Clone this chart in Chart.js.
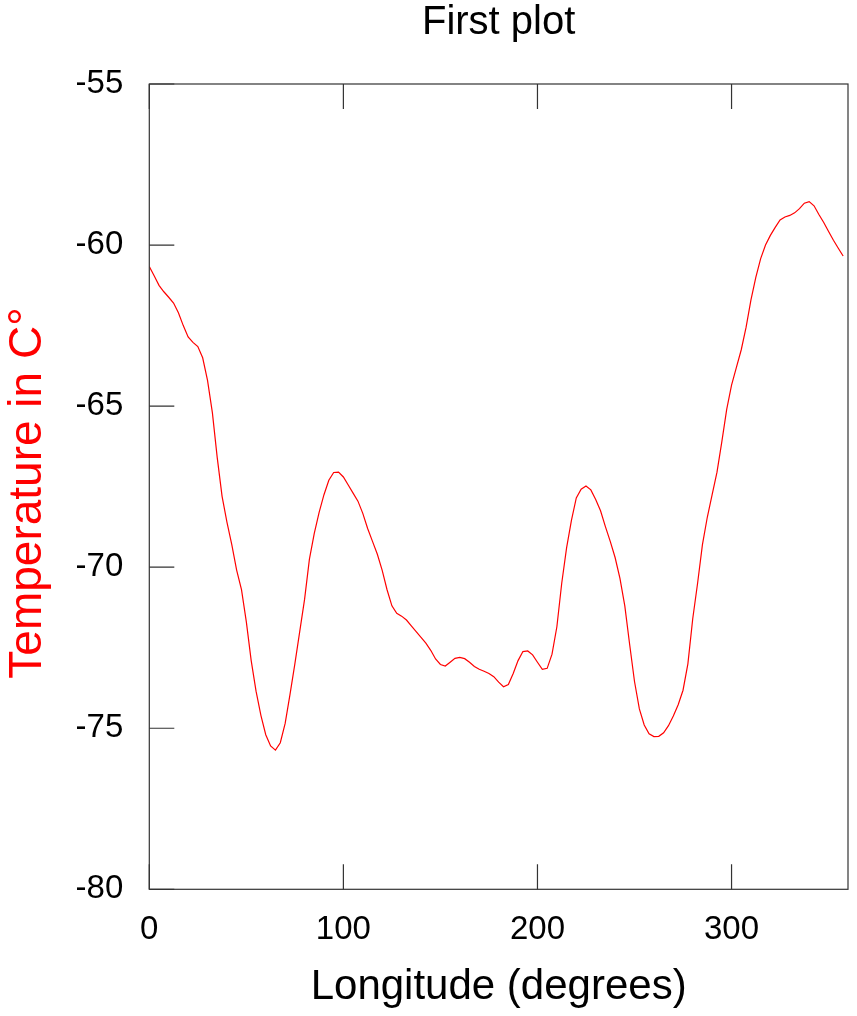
<!DOCTYPE html>
<html>
<head>
<meta charset="utf-8">
<title>First plot</title>
<script src="https://cdn.jsdelivr.net/npm/chart.js@4/dist/chart.umd.min.js"></script>
<style>
  html, body { margin: 0; padding: 0; background: #fff; }
  #wrap { width: 857px; height: 1016px; position: relative; }
</style>
</head>
<body>
<div id="wrap"><canvas id="tempChart"></canvas></div>
<script>
// Longitude of each sample (degrees)
const longitudes = [
    0, 2.5, 5, 7.5, 10, 12.5, 15, 17.5, 20, 22.5, 25, 27.5, 30, 32.5, 35, 37.5,
    40, 42.5, 45, 47.5, 50, 52.5, 55, 57.5, 60, 62.5, 65, 67.5, 70, 72.5, 75, 77.5,
    80, 82.5, 85, 87.5, 90, 92.5, 95, 97.5, 100, 102.5, 105, 107.5, 110, 112.5, 115, 117.5,
    120, 122.5, 125, 127.5, 130, 132.5, 135, 137.5, 140, 142.5, 145, 147.5, 150, 152.5, 155, 157.5,
    160, 162.5, 165, 167.5, 170, 172.5, 175, 177.5, 180, 182.5, 185, 187.5, 190, 192.5, 195, 197.5,
    200, 202.5, 205, 207.5, 210, 212.5, 215, 217.5, 220, 222.5, 225, 227.5, 230, 232.5, 235, 237.5,
    240, 242.5, 245, 247.5, 250, 252.5, 255, 257.5, 260, 262.5, 265, 267.5, 270, 272.5, 275, 277.5,
    280, 282.5, 285, 287.5, 290, 292.5, 295, 297.5, 300, 302.5, 305, 307.5, 310, 312.5, 315, 317.5,
    320, 322.5, 325, 327.5, 330, 332.5, 335, 337.5, 340, 342.5, 345, 347.5, 350, 352.5, 355, 357.5
];

// Temperature (C)
const temperatures = [
    -60.67, -60.95, -61.25, -61.45, -61.62, -61.80, -62.10, -62.50, -62.85, -63.02, -63.15, -63.50, -64.20, -65.20, -66.60, -67.80,
    -68.60, -69.30, -70.09, -70.70, -71.70, -72.90, -73.85, -74.60, -75.20, -75.55, -75.68, -75.45, -74.85, -73.95, -73.00, -72.00,
    -71.00, -69.75, -68.95, -68.30, -67.75, -67.30, -67.06, -67.05, -67.20, -67.45, -67.70, -67.95, -68.33, -68.80, -69.20, -69.60,
    -70.10, -70.70, -71.20, -71.43, -71.52, -71.64, -71.82, -72.00, -72.18, -72.36, -72.58, -72.85, -73.02, -73.07, -72.95, -72.83,
    -72.80, -72.84, -72.95, -73.08, -73.17, -73.23, -73.30, -73.40, -73.57, -73.71, -73.64, -73.30, -72.90, -72.62, -72.60, -72.72,
    -72.95, -73.17, -73.14, -72.70, -71.85, -70.50, -69.40, -68.55, -67.85, -67.58, -67.48, -67.60, -67.90, -68.25, -68.74, -69.20,
    -69.70, -70.35, -71.20, -72.40, -73.55, -74.40, -74.90, -75.17, -75.26, -75.25, -75.14, -74.92, -74.62, -74.27, -73.82, -73.00,
    -71.60, -70.50, -69.30, -68.45, -67.75, -67.05, -66.10, -65.10, -64.35, -63.80, -63.25, -62.55, -61.70, -61.00, -60.42, -60.00,
    -59.70, -59.45, -59.22, -59.13, -59.08, -59.00, -58.87, -58.70, -58.65, -58.78, -59.05, -59.30, -59.58, -59.85, -60.10, -60.34
];

const xTickValues = [0, 100, 200, 300];
const yTickValues = [-80, -75, -70, -65, -60, -55];

const FONT = "'Liberation Sans', Arial, Helvetica, sans-serif";

// NCL-style frame: box round the plot, ticks pointing inward (left, bottom, top)
const frameTicks = {
    id: 'frameTicks',
    afterDraw(chart) {
        const { ctx, chartArea: a, scales } = chart;
        const len = 25;
        ctx.save();
        ctx.strokeStyle = '#333';
        ctx.lineWidth = 1.2;
        ctx.strokeRect(a.left, a.top, a.right - a.left, a.bottom - a.top);
        ctx.beginPath();
        scales.x.ticks.forEach(t => {
            const px = scales.x.getPixelForValue(t.value);
            ctx.moveTo(px, a.bottom); ctx.lineTo(px, a.bottom - len);
            ctx.moveTo(px, a.top); ctx.lineTo(px, a.top + len);
        });
        scales.y.ticks.forEach(t => {
            const py = scales.y.getPixelForValue(t.value);
            ctx.moveTo(a.left, py); ctx.lineTo(a.left + len, py);
        });
        ctx.stroke();
        ctx.restore();
    }
};

new Chart(document.getElementById('tempChart'), {
    type: 'line',
    data: {
        datasets: [{
            label: 'Temperature',
            data: longitudes.map((lon, i) => ({ x: lon, y: temperatures[i] })),
            borderColor: '#ff0000',
            borderWidth: 1.2,
            pointRadius: 0,
            tension: 0,
            fill: false
        }]
    },
    options: {
        responsive: true,
        maintainAspectRatio: false,
        animation: false,
        layout: { padding: { left: 0, right: 9, top: 0, bottom: 0 } },
        plugins: {
            legend: { display: false },
            tooltip: { enabled: false }
        },
        scales: {
            // top axis only carries the plot title, centred over the plot
            top: {
                type: 'linear',
                position: 'top',
                min: 0,
                max: 360,
                afterFit: s => { s.height = 84; },
                grid: { display: false },
                border: { display: false },
                ticks: { display: false },
                title: {
                    display: true,
                    text: 'First plot',
                    color: '#000',
                    font: { family: FONT, size: 40, lineHeight: 1 },
                    padding: { top: 3, bottom: 0 }
                }
            },
            x: {
                type: 'linear',
                min: 0,
                max: 360,
                afterBuildTicks: s => { s.ticks = xTickValues.map(v => ({ value: v })); },
                afterFit: s => { s.height = 126.7; },
                grid: { display: false },
                border: { display: false },
                ticks: {
                    color: '#000',
                    padding: 13,
                    maxRotation: 0,
                    font: { family: FONT, size: 33 }
                },
                title: {
                    display: true,
                    text: 'Longitude (degrees)',
                    color: '#000',
                    font: { family: FONT, size: 42, lineHeight: 1 },
                    padding: { top: 0, bottom: 8 }
                }
            },
            y: {
                type: 'linear',
                min: -80,
                max: -55,
                afterBuildTicks: s => { s.ticks = yTickValues.map(v => ({ value: v })); },
                afterFit: s => { s.width = 149.3; },
                grid: { display: false, drawTicks: false },
                border: { display: false },
                ticks: {
                    color: '#000',
                    padding: 26,
                    font: { family: FONT, size: 33 }
                },
                title: {
                    display: true,
                    text: 'Temperature in C° ',
                    color: '#ff0000',
                    font: { family: FONT, size: 46, lineHeight: 1 },
                    padding: { top: 5, bottom: 0 }
                }
            }
        }
    },
    plugins: [frameTicks]
});
</script>
</body>
</html>
